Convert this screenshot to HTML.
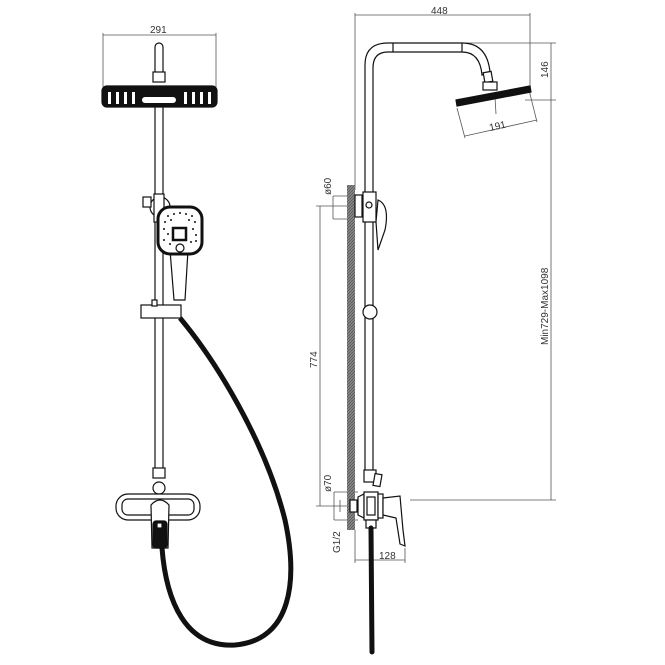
<!DOCTYPE html>
<html><head><meta charset="utf-8"><style>
html,body{margin:0;padding:0;background:#fff}
svg{display:block}
text{font-family:"Liberation Sans",sans-serif;font-size:10px;fill:#333}
</style></head><body>
<svg width="665" height="665" viewBox="0 0 665 665" xmlns="http://www.w3.org/2000/svg">
<defs>
<pattern id="h" width="3" height="3" patternUnits="userSpaceOnUse"><rect width="3" height="3" fill="#888"/><path d="M0 3L3 0" stroke="#555" stroke-width="0.8"/></pattern>
</defs>
<g fill="none" stroke="#555" stroke-width="0.8">
<line x1="103" y1="35" x2="216" y2="35"/>
<line x1="103" y1="33" x2="103" y2="88"/>
<line x1="216" y1="33" x2="216" y2="88"/>
</g>
<text x="150" y="33">291</text>

<g stroke="#111" stroke-width="1.2" fill="#fff">
<rect x="155" y="43" width="8" height="32" rx="4"/>
<rect x="153" y="72" width="12" height="10"/>
<rect x="155" y="106" width="8" height="370"/>
<rect x="102" y="86" width="115" height="21" rx="5" fill="#111"/>
</g>
<g fill="#fff">
<rect x="108" y="92" width="3" height="12"/><rect x="116" y="92" width="3" height="12"/><rect x="124" y="92" width="3" height="12"/><rect x="132" y="92" width="3" height="12"/>
<rect x="184" y="92" width="3" height="12"/><rect x="192" y="92" width="3" height="12"/><rect x="200" y="92" width="3" height="12"/><rect x="208" y="92" width="3" height="12"/>
<rect x="142" y="97" width="34" height="6" rx="3"/>
</g>
<g stroke="#111" stroke-width="1.2" fill="#fff">
<circle cx="160" cy="207" r="10"/>
<rect x="154" y="194" width="10" height="28"/>
<rect x="143" y="197" width="8" height="10"/>
<rect x="141" y="305" width="40" height="13"/>
<rect x="152" y="300" width="5" height="6"/>
<path d="M170 250 L188 250 L185 300 L174 300 Z"/>
<rect x="158" y="207" width="44" height="47" rx="12" stroke-width="3"/>
<rect x="173" y="228" width="13" height="12" stroke-width="2.5"/>
<circle cx="180" cy="248" r="4"/>
</g>
<g fill="#111">
<circle cx="168" cy="216" r="1"/><circle cx="174" cy="214" r="1"/><circle cx="180" cy="213" r="1"/><circle cx="186" cy="214" r="1"/><circle cx="192" cy="216" r="1"/>
<circle cx="165" cy="222" r="1"/><circle cx="171" cy="220" r="1"/><circle cx="189" cy="220" r="1"/><circle cx="195" cy="222" r="1"/>
<circle cx="164" cy="229" r="1"/><circle cx="168" cy="234" r="1"/><circle cx="193" cy="229" r="1"/><circle cx="196" cy="235" r="1"/>
<circle cx="164" cy="240" r="1"/><circle cx="170" cy="244" r="1"/><circle cx="191" cy="242" r="1"/><circle cx="196" cy="241" r="1"/>
</g>
<path d="M180 318 C215 360 265 440 285 520 C298 580 292 640 235 645 C185 648 166 600 162 548" fill="none" stroke="#111" stroke-width="5"/>
<g stroke="#111" stroke-width="1.2" fill="#fff">
<rect x="153" y="468" width="12" height="10"/>
<circle cx="159" cy="488" r="6"/>
<rect x="116" y="494" width="84" height="26" rx="12"/>
<rect x="122" y="499" width="72" height="16" rx="6"/>
<path d="M151 505 Q160 495 169 505 L168 548 L152 548 Z"/>
<rect x="153" y="521" width="14" height="27" rx="3" fill="#111"/>
<rect x="157" y="523" width="5" height="5" fill="#fff"/>
</g>

<g fill="none" stroke="#555" stroke-width="0.8">
<line x1="355" y1="15" x2="530" y2="15"/>
<line x1="355" y1="13" x2="355" y2="190"/>
<line x1="530" y1="13" x2="530" y2="95"/>
<line x1="465" y1="43" x2="556" y2="43"/>
<line x1="525" y1="100" x2="556" y2="100"/>
<line x1="551" y1="43" x2="551" y2="500"/>
<line x1="410" y1="500" x2="556" y2="500"/>
<line x1="320" y1="206" x2="320" y2="506"/>
<line x1="316" y1="206" x2="355" y2="206"/>
<line x1="316" y1="506" x2="355" y2="506"/>
<line x1="333" y1="196" x2="333" y2="219"/>
<line x1="333" y1="196" x2="350" y2="196"/>
<line x1="333" y1="219" x2="350" y2="219"/>
<line x1="334" y1="492" x2="334" y2="520"/>
<line x1="334" y1="492" x2="358" y2="492"/>
<line x1="334" y1="520" x2="358" y2="520"/>
<line x1="340" y1="500" x2="340" y2="512"/>
<line x1="355" y1="530" x2="355" y2="563"/>
<line x1="405" y1="548" x2="405" y2="563"/>
<line x1="355" y1="560" x2="405" y2="560"/>
<line x1="457" y1="108" x2="465" y2="138"/>
<line x1="530" y1="94" x2="537" y2="122"/>
<line x1="465" y1="136" x2="537" y2="120"/>
<line x1="495" y1="97" x2="496" y2="114"/>
</g>
<text x="431" y="14">448</text>
<text transform="translate(548 78) rotate(-90)">146</text>
<text transform="translate(548 345) rotate(-90)">Min729-Max1098</text>
<text transform="translate(317 368) rotate(-90)">774</text>
<text transform="translate(331 195) rotate(-90)">ø60</text>
<text transform="translate(331 492) rotate(-90)">ø70</text>
<text transform="translate(340 553) rotate(-90)">G1/2</text>
<text x="379" y="559">128</text>
<text transform="translate(490 131) rotate(-12)">191</text>

<rect x="347" y="185" width="8" height="345" fill="url(#h)"/>
<g stroke="#111" stroke-width="1.2" fill="#fff">
<path d="M365 470 L365 65 Q365 43 388 43 L462 43 Q487 43 490 72 L482 75 Q480 52 462 52 L388 52 Q373 52 373 68 L373 470"/>
<line x1="393" y1="43" x2="393" y2="52"/><line x1="462" y1="43" x2="462" y2="52"/>
<rect x="484" y="72" width="8" height="10" transform="rotate(-10 488 77)"/>
<rect x="483" y="82" width="14" height="8"/>
<path d="M456 100 L530 86 L531 92 L457 106 Z" fill="#111"/>
<rect x="355" y="195" width="7" height="22"/>
<rect x="363" y="192" width="13" height="30"/>
<circle cx="369" cy="205" r="3"/>
<path d="M378 200 Q390 205 385 230 L378 250 L376 222 Z"/>
<circle cx="370" cy="312" r="7"/>
<rect x="364" y="470" width="12" height="12"/>
<rect x="374" y="474" width="7" height="12" transform="rotate(10 377 480)"/>
<path d="M358 497 L364 494 L364 518 L358 515 Z"/>
<rect x="350" y="500" width="7" height="12"/>
<rect x="364" y="492" width="14" height="28"/>
<rect x="367" y="497" width="8" height="18"/>
<rect x="378" y="494" width="5" height="24"/>
<path d="M383 498 L400 496 L403 530 L405 546 L400 544 L396 518 L383 515 Z"/>
<rect x="366" y="520" width="10" height="8"/>
</g>
<line x1="371" y1="528" x2="372" y2="652" stroke="#111" stroke-width="5" stroke-linecap="round"/>
</svg>
</body></html>
